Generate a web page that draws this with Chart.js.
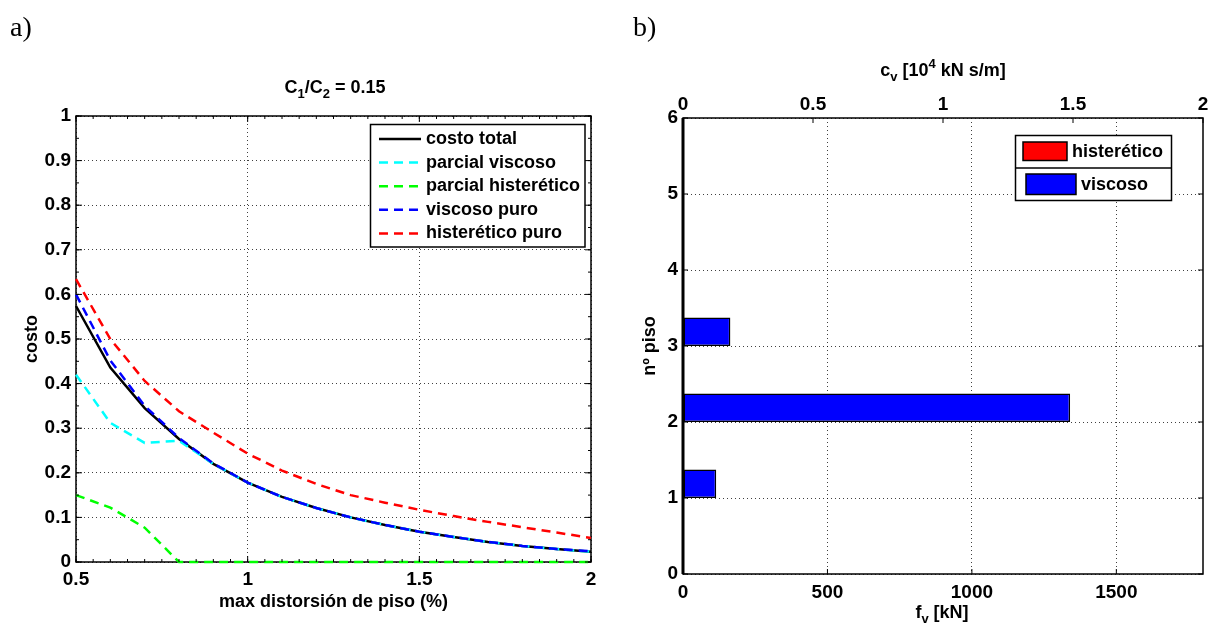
<!DOCTYPE html>
<html>
<head>
<meta charset="utf-8">
<script src="https://cdn.jsdelivr.net/npm/chart.js@4"></script>
<style>
  html, body { margin: 0; padding: 0; background: #fff; }
  body { width: 1211px; height: 630px; position: relative; overflow: hidden; }
  .panel { position: absolute; top: 0; height: 630px; }
  .lbl { position: absolute; font-family: 'Liberation Sans', Arial, sans-serif; font-weight: bold; font-size: 18px; color: #000; transform: translate(-50%, -50%); white-space: nowrap; }
  .lbl sub, .lbl sup { font-size: 13px; line-height: 0; }
  .lbl sub { vertical-align: -5px; }
  .lbl sup { vertical-align: 8px; }
  .letra { position: absolute; font-family: 'Liberation Serif', 'Times New Roman', serif; font-size: 28px; color: #000; transform: translateY(-50%); }
</style>
</head>
<body>
<div class="panel" style="left:0;width:605px"><canvas id="costos"></canvas></div>
<div class="panel" style="left:605px;width:606px"><canvas id="pisos"></canvas></div>

<div class="letra" style="left:10px;top:27px">a)</div>
<div class="letra" style="left:633px;top:27px">b)</div>
<div class="lbl" style="left:335px;top:87px">C<sub>1</sub>/C<sub>2</sub> = 0.15</div>
<div class="lbl" style="left:943px;top:70px">c<sub>v</sub> [10<sup>4</sup> kN s/m]</div>
<div class="lbl" style="left:942px;top:612px">f<sub>v</sub> [kN]</div>

<script>
// panel a) — costo vs max distorsión de piso
const distorsion = [0.5, 0.6, 0.7, 0.8, 0.9, 1.0, 1.1, 1.2, 1.3, 1.4, 1.5, 1.6, 1.7, 1.8, 1.9, 2.0];
const costoTotal = [0.574, 0.436, 0.345, 0.276, 0.220, 0.178, 0.146, 0.121, 0.100, 0.083, 0.068, 0.056, 0.045, 0.036, 0.029, 0.023];
const parcialViscoso = [0.420, 0.312, 0.267, 0.272, 0.220, 0.178, 0.146, 0.121, 0.100, 0.083, 0.068, 0.056, 0.045, 0.036, 0.029, 0.023];
const parcialHisteretico = [0.150, 0.122, 0.077, 0, 0, 0, 0, 0, 0, 0, 0, 0, 0, 0, 0, 0];
const viscosoPuro = [0.600, 0.452, 0.350, 0.278, 0.221, 0.178, 0.146, 0.121, 0.100, 0.083, 0.068, 0.056, 0.045, 0.036, 0.029, 0.024];
const histereticoPuro = [0.634, 0.500, 0.406, 0.338, 0.290, 0.243, 0.205, 0.175, 0.150, 0.133, 0.117, 0.103, 0.090, 0.078, 0.066, 0.054];

// panel b) — fuerza por piso
const pisos = [1, 2, 3];
const fvViscoso = [115, 1340, 164];
const fvHisteretico = [0, 0, 0];
const fvTicks = [0, 500, 1000, 1500];
const cvTicks = [0, 0.5, 1, 1.5, 2];
const pisoTicks = [0, 1, 2, 3, 4, 5, 6];

Chart.defaults.font.family = "'Liberation Sans', Arial, sans-serif";
Chart.defaults.font.weight = 'bold';
Chart.defaults.font.size = 19;
Chart.defaults.color = '#000';
Chart.defaults.animation = false;

const puntos = (ys) => distorsion.map((x, i) => ({ x, y: ys[i] }));
const numero = (v) => String(Math.round(v * 1000) / 1000);
const fijarTicks = (lista) => (s) => { s.ticks = lista.map(v => ({ value: v })); };

// box round the plot (under the data) and inward tick marks (over it)
const marco = {
  id: 'marco',
  beforeDatasetsDraw(chart, args, opts) {
    const { ctx, chartArea: a } = chart;
    ctx.save();
    ctx.strokeStyle = '#000';
    ctx.lineWidth = opts.width || 1.5;
    ctx.strokeRect(a.left, a.top, a.right - a.left, a.bottom - a.top);
    if (opts.leftWidth) {
      ctx.lineWidth = opts.leftWidth;
      ctx.beginPath(); ctx.moveTo(a.left, a.top); ctx.lineTo(a.left, a.bottom); ctx.stroke();
    }
    ctx.restore();
  },
  afterDatasetsDraw(chart, args, opts) {
    const { ctx, chartArea: a } = chart;
    ctx.save();
    ctx.strokeStyle = '#000';
    ctx.lineWidth = 1;
    (opts.marks || []).forEach(m => {
      const sc = chart.scales[m.scale];
      ctx.beginPath();
      for (let v = sc.min; v <= sc.max + 1e-9; v += m.step) {
        const p = sc.getPixelForValue(v);
        if (sc.isHorizontal()) {
          if (m.sides.includes('bottom')) { ctx.moveTo(p, a.bottom); ctx.lineTo(p, a.bottom - m.len); }
          if (m.sides.includes('top')) { ctx.moveTo(p, a.top); ctx.lineTo(p, a.top + m.len); }
        } else {
          if (m.sides.includes('left')) { ctx.moveTo(a.left, p); ctx.lineTo(a.left + m.len, p); }
          if (m.sides.includes('right')) { ctx.moveTo(a.right, p); ctx.lineTo(a.right - m.len, p); }
        }
      }
      ctx.stroke();
    });
    ctx.restore();
  }
};

// legend box drawn inside the axes
const leyenda = {
  id: 'leyenda',
  afterDraw(chart, args, o) {
    if (!o.box) return;
    const { ctx } = chart;
    const ds = chart.data.datasets;
    ctx.save();
    ctx.fillStyle = '#fff';
    ctx.fillRect(o.box[0], o.box[1], o.box[2], o.box[3]);
    ctx.strokeStyle = '#000';
    ctx.lineWidth = o.boxWidth || 1.5;
    ctx.strokeRect(o.box[0], o.box[1], o.box[2], o.box[3]);
    ctx.font = "bold " + o.fontSize + "px 'Liberation Sans', Arial, sans-serif";
    ctx.textBaseline = 'middle';
    o.order.forEach((idx, k) => {
      const d = ds[idx];
      if (o.kind === 'line') {
        const y = o.rowY[k];
        ctx.strokeStyle = d.borderColor;
        ctx.lineWidth = d.borderWidth;
        ctx.setLineDash(d.borderDash || []);
        ctx.beginPath(); ctx.moveTo(o.lineX[0], y); ctx.lineTo(o.lineX[1], y); ctx.stroke();
        ctx.setLineDash([]);
        ctx.fillStyle = '#000';
        ctx.fillText(d.label, o.textX, y);
      } else {
        const r = o.rows[k];
        if (r.divider) {
          ctx.strokeStyle = '#000'; ctx.lineWidth = 1.5;
          ctx.beginPath(); ctx.moveTo(o.box[0], r.divider); ctx.lineTo(o.box[0] + o.box[2], r.divider); ctx.stroke();
        }
        ctx.fillStyle = d.backgroundColor;
        ctx.fillRect(r.patch[0], r.patch[1], r.patch[2], r.patch[3]);
        ctx.strokeStyle = '#000'; ctx.lineWidth = 1.5;
        ctx.strokeRect(r.patch[0], r.patch[1], r.patch[2], r.patch[3]);
        ctx.fillStyle = '#000';
        ctx.fillText(d.label, r.textX, r.textY);
      }
    });
    ctx.restore();
  }
};

const rejilla = { color: 'rgba(0,0,0,0.75)', lineWidth: 1, drawTicks: false };
const borde = { display: false, dash: [1, 3] };
const tituloEje = { display: true, font: { size: 18, weight: 'bold' } };

new Chart(document.getElementById('costos'), {
  type: 'line',
  data: {
    datasets: [
      { label: 'costo total', data: puntos(costoTotal), borderColor: '#000000', borderWidth: 2.5, order: 5 },
      { label: 'parcial viscoso', data: puntos(parcialViscoso), borderColor: '#00FFFF', borderWidth: 2.5, borderDash: [9, 6], order: 4 },
      { label: 'parcial histerético', data: puntos(parcialHisteretico), borderColor: '#00FF00', borderWidth: 2.5, borderDash: [9, 6], order: 3 },
      { label: 'viscoso puro', data: puntos(viscosoPuro), borderColor: '#0000FF', borderWidth: 2.5, borderDash: [9, 6], order: 2 },
      { label: 'histerético puro', data: puntos(histereticoPuro), borderColor: '#FF0000', borderWidth: 2.5, borderDash: [9, 6], order: 1 }
    ]
  },
  options: {
    responsive: true,
    maintainAspectRatio: false,
    layout: { padding: { left: 0, top: 116, right: 14, bottom: 0 } },
    elements: { point: { radius: 0 }, line: { tension: 0, fill: false } },
    datasets: { line: { clip: 4 } },
    scales: {
      x: {
        type: 'linear', min: 0.5, max: 2,
        ticks: { stepSize: 0.5, padding: 6, maxRotation: 0, callback: numero },
        grid: rejilla, border: borde,
        title: Object.assign({}, tituloEje, { text: 'max distorsión de piso (%)', padding: { top: 0, bottom: 17 } }),
        afterFit: s => { s.height = 68; }
      },
      y: {
        min: 0, max: 1,
        ticks: { stepSize: 0.1, padding: 5, callback: numero },
        grid: rejilla, border: borde,
        title: Object.assign({}, tituloEje, { text: 'costo', padding: { top: 21, bottom: 0 } }),
        afterFit: s => { s.width = 76; }
      }
    },
    plugins: {
      legend: { display: false },
      tooltip: { enabled: false },
      marco: {
        marks: [
          { scale: 'x', step: 0.5, len: 6, sides: ['top', 'bottom'] },
          { scale: 'x', step: 0.05, len: 3, sides: ['top', 'bottom'] },
          { scale: 'y', step: 0.1, len: 6, sides: ['left', 'right'] },
          { scale: 'y', step: 0.05, len: 3, sides: ['left', 'right'] }
        ]
      },
      leyenda: {
        kind: 'line',
        box: [370.5, 124.5, 214.5, 122.5],
        order: [0, 1, 2, 3, 4],
        rowY: [139, 162.6, 186.2, 209.8, 233.4],
        lineX: [379, 421],
        textX: 426,
        fontSize: 18
      }
    }
  },
  plugins: [marco, leyenda]
});

new Chart(document.getElementById('pisos'), {
  type: 'bar',
  data: {
    datasets: [
      { label: 'viscoso', data: pisos.map((p, i) => ({ y: p, x: fvViscoso[i] })), backgroundColor: '#0000FF', borderColor: '#000', borderWidth: 1.5, borderSkipped: false },
      { label: 'histerético', data: pisos.map((p, i) => ({ y: p, x: fvHisteretico[i] })), backgroundColor: '#FF0000', borderColor: '#FF9999', borderWidth: 1, borderSkipped: false }
    ]
  },
  options: {
    indexAxis: 'y',
    responsive: true,
    maintainAspectRatio: false,
    layout: { padding: { left: 0, top: 0, right: 8, bottom: 0 } },
    datasets: { bar: { categoryPercentage: 0.75, barPercentage: 1 } },
    scales: {
      x: {
        type: 'linear', position: 'bottom', min: 0, max: 1800,
        ticks: { padding: 7, maxRotation: 0, callback: numero },
        afterBuildTicks: fijarTicks(fvTicks),
        grid: rejilla, border: borde,
        afterFit: s => { s.height = 56; }
      },
      x2: {
        type: 'linear', position: 'top', min: 0, max: 2,
        ticks: { padding: 2, maxRotation: 0, callback: numero },
        afterBuildTicks: fijarTicks(cvTicks),
        grid: { drawOnChartArea: false, drawTicks: false },
        border: { display: false },
        afterFit: s => { s.height = 118; }
      },
      y: {
        type: 'linear', min: 0, max: 6, offset: false,
        ticks: { padding: 5, callback: numero },
        afterBuildTicks: fijarTicks(pisoTicks),
        grid: Object.assign({}, rejilla, { offset: false }), border: borde,
        title: Object.assign({}, tituloEje, { text: 'nº piso', padding: { top: 34, bottom: 0 } }),
        afterFit: s => { s.width = 78; }
      }
    },
    plugins: {
      legend: { display: false },
      tooltip: { enabled: false },
      marco: {
        leftWidth: 3,
        marks: [
          { scale: 'x', step: 500, len: 5, sides: ['bottom'] },
          { scale: 'x2', step: 0.5, len: 5, sides: ['top'] },
          { scale: 'y', step: 1, len: 5, sides: ['left', 'right'] }
        ]
      },
      leyenda: {
        kind: 'patch',
        box: [410.5, 135.5, 156, 65],
        order: [1, 0],
        rows: [
          { patch: [418, 142, 44, 18.5], textX: 467, textY: 152 },
          { divider: 168, patch: [421, 174, 50, 20.5], textX: 476, textY: 185 }
        ],
        fontSize: 18
      }
    }
  },
  plugins: [marco, leyenda]
});
</script>
</body>
</html>
